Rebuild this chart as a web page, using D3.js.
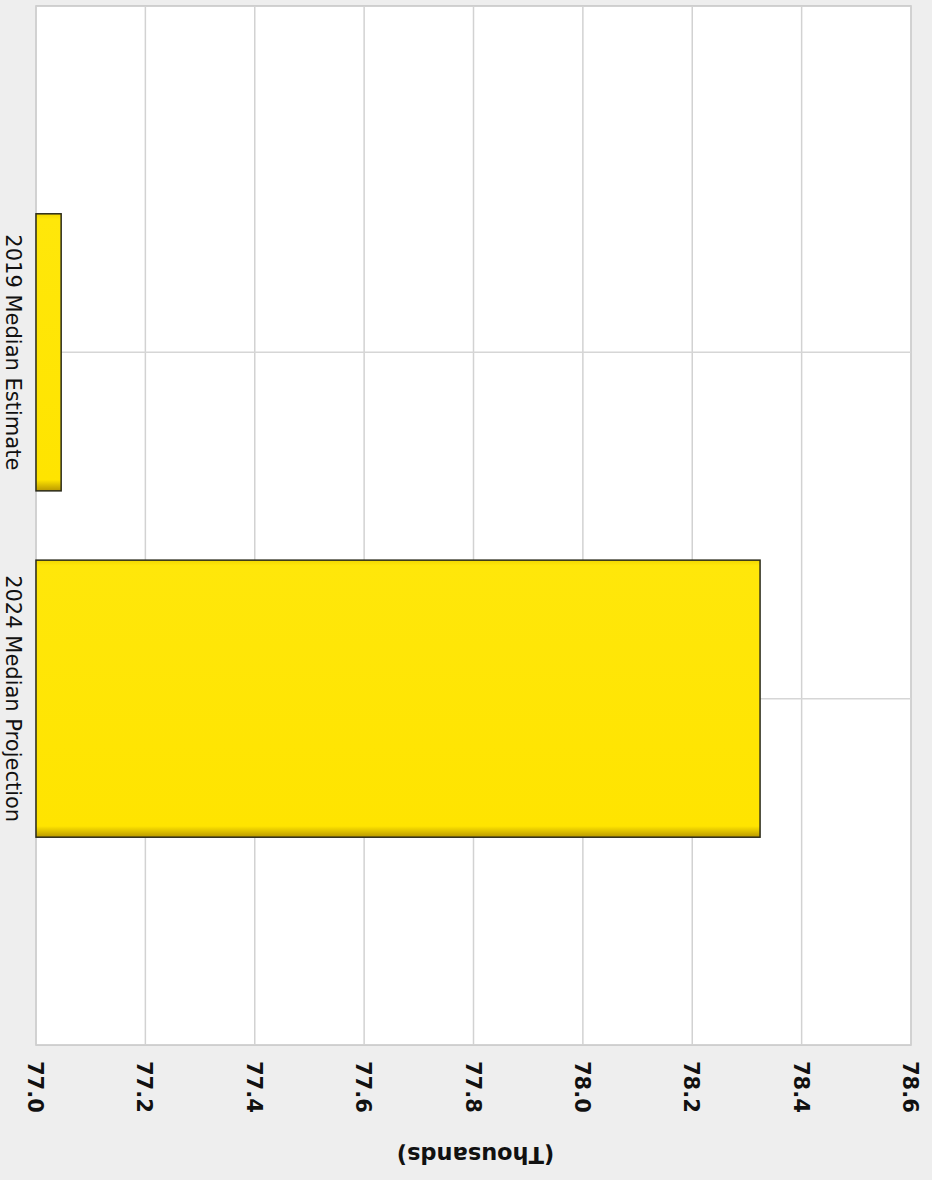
<!DOCTYPE html>
<html lang="en">
<head>
  <meta charset="utf-8">
  <title>Median Estimate vs Projection</title>
  <script src="https://d3js.org/d3.v7.min.js"></script>
  <style>
  body { margin: 0; background: #eeeeee; }
  #chart { width: 932px; height: 1180px; }
  </style>
</head>
<body>

<div id="chart"></div>

<script>
// data (values in thousands)
var categories = ["2019 Median Estimate", "2024 Median Projection"];
var values = [77.046, 78.324];
var tickValues = [77.0, 77.2, 77.4, 77.6, 77.8, 78.0, 78.2, 78.4, 78.6];
var axisTitle = "(Thousands)";

// set the dimensions and margins of the graph
var W = 932, H = 1180;
var margin = {top: 6, right: 21, bottom: 135, left: 36},
  width = W - margin.left - margin.right,
  height = H - margin.top - margin.bottom;

var svg = d3.select("#chart")
  .append("svg")
    .attr("width", W)
    .attr("height", H);

// bar gradient (darker bottom edge like the original)
var grad = svg.append("defs").append("linearGradient")
  .attr("id", "barFill")
  .attr("x1", 0).attr("y1", 0).attr("x2", 0).attr("y2", 1);
grad.append("stop").attr("offset", "0%").attr("stop-color", "#f2d600");
grad.append("stop").attr("offset", "2%").attr("stop-color", "#ffe70a");
grad.append("stop").attr("offset", "96%").attr("stop-color", "#ffe400");
grad.append("stop").attr("offset", "100%").attr("stop-color", "#b89800");

var g = svg.append("g")
  .attr("transform", "translate(" + margin.left + "," + margin.top + ")");

// scales
var x = d3.scaleLinear()
  .domain([77.0, 78.6])
  .range([0, width]);

// categories sit at 1 and 2 on a 0..3 axis
var y = d3.scaleLinear()
  .domain([0, categories.length + 1])
  .range([0, height]);

var barH = y(1) * 0.8;

// plot background
g.append("rect")
  .attr("width", width)
  .attr("height", height)
  .attr("fill", "#ffffff")
  .attr("stroke", "#c4c4c4")
  .attr("stroke-width", 1.5);

// vertical gridlines
g.selectAll("vgrid")
  .data(tickValues)
  .enter()
  .append("line")
    .attr("x1", function(d){ return x(d) })
    .attr("x2", function(d){ return x(d) })
    .attr("y1", 0)
    .attr("y2", height)
    .attr("stroke", "#d2d2d2")
    .attr("stroke-width", 1.5);

// horizontal gridlines at category centers
g.selectAll("hgrid")
  .data(categories)
  .enter()
  .append("line")
    .attr("x1", 0)
    .attr("x2", width)
    .attr("y1", function(d, i){ return y(i + 1) })
    .attr("y2", function(d, i){ return y(i + 1) })
    .attr("stroke", "#d6d6d6")
    .attr("stroke-width", 1.5);

// bars
g.selectAll("bars")
  .data(values)
  .enter()
  .append("rect")
    .attr("x", x(77.0))
    .attr("y", function(d, i){ return y(i + 1) - barH / 2 })
    .attr("width", function(d){ return x(d) - x(77.0) })
    .attr("height", barH)
    .attr("fill", "url(#barFill)")
    .attr("stroke", "#2a2a1a")
    .attr("stroke-width", 1.5);

// value tick labels, rotated
g.selectAll("ticklabels")
  .data(tickValues)
  .enter()
  .append("text")
    .text(function(d){ return d3.format(".1f")(d) })
    .attr("transform", function(d){ return "translate(" + (x(d) - 8) + "," + (height + 16) + ")rotate(90)" })
    .style("font-family", "DejaVu Sans, Verdana, sans-serif")
    .style("font-weight", "bold")
    .style("font-size", "21px")
    .style("fill", "#111");

// category labels, rotated
g.selectAll("catlabels")
  .data(categories)
  .enter()
  .append("text")
    .text(function(d){ return d })
    .attr("transform", function(d, i){ return "translate(" + (6 - margin.left) + "," + y(i + 1) + ")rotate(90)" })
    .style("text-anchor", "middle")
    .style("font-family", "DejaVu Sans, Verdana, sans-serif")
    .style("font-size", "21px")
    .style("fill", "#111");

// axis title, upside down like the scan
g.append("text")
  .text(axisTitle)
  .attr("transform", "translate(" + (width / 2 + 2) + "," + (height + 110) + ")rotate(180)")
  .style("text-anchor", "middle")
  .style("dominant-baseline", "central")
  .style("font-family", "DejaVu Sans, Verdana, sans-serif")
  .style("font-weight", "bold")
  .style("font-size", "22.5px")
  .style("fill", "#111");
</script>

</body>
</html>
